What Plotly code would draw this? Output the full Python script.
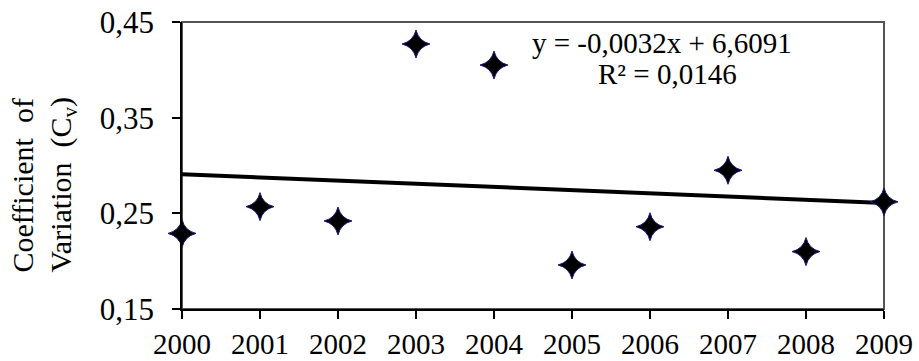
import numpy as np
import plotly.graph_objects as go

years = [2000, 2001, 2002, 2003, 2004, 2005, 2006, 2007, 2008, 2009]
cv = [0.229, 0.257, 0.242, 0.427, 0.405, 0.196, 0.236, 0.295, 0.210, 0.262]
y_ticks = [0.15, 0.25, 0.35, 0.45]
y_tick_labels = ["0,15", "0,25", "0,35", "0,45"]
eq_text = "y = -0,0032x + 6,6091"
r2_text = "R² = 0,0146"

slope, intercept = np.polyfit(years, cv, 1)
trend_x = [years[0], years[-1]]
trend_y = [slope * x + intercept for x in trend_x]

FONT = "Liberation Serif, Times New Roman, serif"

fig = go.Figure()
fig.add_trace(go.Scatter(x=trend_x, y=trend_y, mode="lines",
                         line=dict(color="black", width=4), cliponaxis=False,
                         hoverinfo="skip"))
fig.add_trace(go.Scatter(x=years, y=cv, mode="markers", cliponaxis=False,
                         marker=dict(symbol="star-diamond", size=20, color="black",
                                     line=dict(color="#1a1a7a", width=1))))

fig.update_layout(
    width=919, height=361,
    margin=dict(l=182, r=35, t=22, b=52, autoexpand=False),
    paper_bgcolor="white", plot_bgcolor="white",
    showlegend=False,
    font=dict(family=FONT, size=31, color="black"),
    xaxis=dict(range=[2000, 2009], tickvals=years, ticktext=[str(y) for y in years],
               showline=True, linecolor="black", linewidth=1.5,
               ticks="outside", ticklen=8, tickcolor="black", tickwidth=1.5,
               showgrid=False, zeroline=False, tickfont=dict(size=29),
               automargin=False),
    yaxis=dict(range=[0.15, 0.45], tickvals=y_ticks, ticktext=y_tick_labels,
               showline=True, linecolor="black", linewidth=1.5,
               ticks="outside", ticklen=8, tickcolor="black", tickwidth=1.5,
               showgrid=False, zeroline=False, tickfont=dict(size=31),
               ticklabelstandoff=12, automargin=False),
)
fig.add_shape(type="rect", xref="paper", yref="paper", x0=0, y0=0, x1=1, y1=1,
              line=dict(color="#555555", width=2), layer="below")

fig.add_annotation(text=eq_text, x=2006.15, y=0.428, xref="x", yref="y",
                   showarrow=False, font=dict(size=29))
fig.add_annotation(text=r2_text, x=2006.23, y=0.396, xref="x", yref="y",
                   showarrow=False, font=dict(size=29))
fig.add_annotation(text="Coefficient  of", x=0, y=0.5, xref="paper", yref="paper",
                   xanchor="center", yanchor="middle",
                   xshift=-160, yshift=-20, textangle=-90, showarrow=False,
                   font=dict(size=30))
fig.add_annotation(text="Variation  (C<sub>v</sub>)", x=0, y=0.5, xref="paper", yref="paper",
                   xanchor="center", yanchor="middle",
                   xshift=-120, yshift=-20, textangle=-90, showarrow=False,
                   font=dict(size=30))

fig.write_html("out.html", config={"displayModeBar": False},
               post_script="document.body.style.margin='0px';document.body.style.overflow='hidden';")
